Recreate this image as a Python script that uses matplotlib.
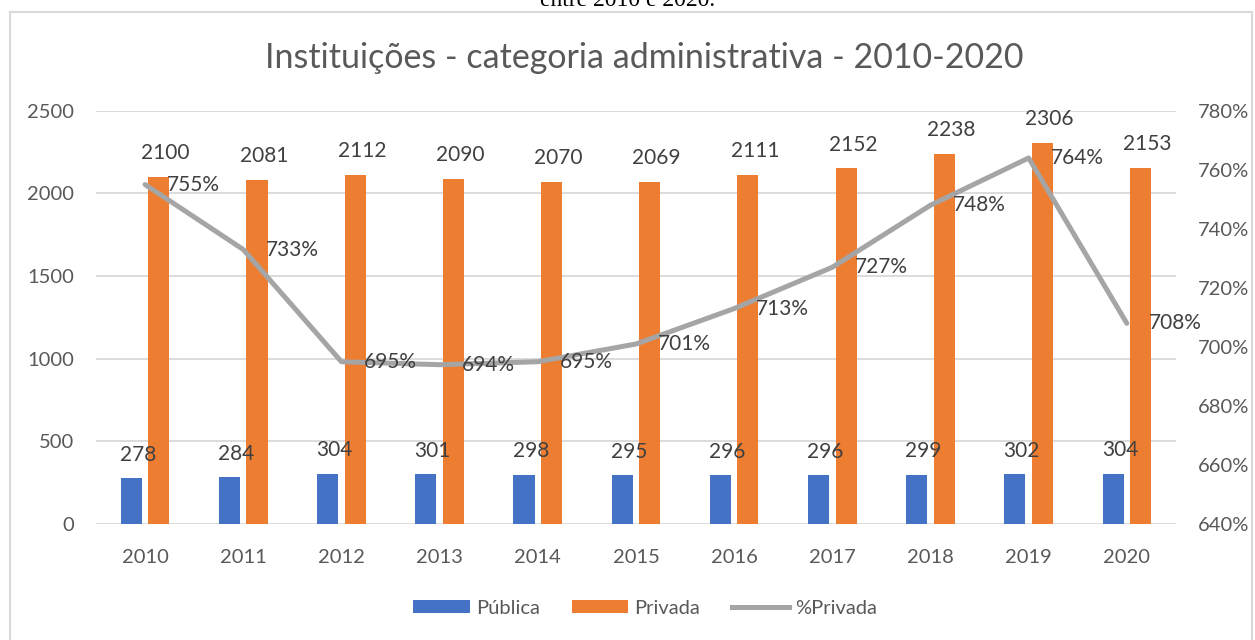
import matplotlib.pyplot as plt
import numpy as np
from matplotlib.lines import Line2D
from matplotlib.patches import Patch

YEARS = ["2010", "2011", "2012", "2013", "2014", "2015", "2016", "2017", "2018", "2019", "2020"]
PUBLICA = [278, 284, 304, 301, 298, 295, 296, 296, 299, 302, 304]
PRIVADA = [2100, 2081, 2112, 2090, 2070, 2069, 2111, 2152, 2238, 2306, 2153]
PCT_PRIVADA = [7.55, 7.33, 6.95, 6.94, 6.95, 7.01, 7.13, 7.27, 7.48, 7.64, 7.08]
LEFT_TICKS = [0, 500, 1000, 1500, 2000, 2500]
RIGHT_TICKS = [6.4, 6.6, 6.8, 7.0, 7.2, 7.4, 7.6, 7.8]

BLUE = "#4472C4"
ORANGE = "#ED7D31"
GRAY = "#A5A5A5"
TEXT = "#595959"
LABEL = "#404040"
GRID = "#D9D9D9"
FONT = "Lato"

plt.rcParams["font.family"] = [FONT, "DejaVu Sans"]

fig = plt.figure(figsize=(12.55, 6.4), dpi=100)
ax = fig.add_axes([0.0765, 0.181, 0.8605, 0.646])
ax2 = ax.twinx()

x = np.arange(len(YEARS))
width = 0.215
offset = 0.14

bars_pub = ax.bar(x - offset, PUBLICA, width, color=BLUE, zorder=2)
bars_priv = ax.bar(x + offset, PRIVADA, width, color=ORANGE, zorder=2)

for bars, values in [(bars_pub, PUBLICA), (bars_priv, PRIVADA)]:
    for bar, value in zip(bars, values):
        ax.annotate(str(value), (bar.get_x() + bar.get_width() / 2 + 0.07, value),
                    xytext=(0, 17), textcoords="offset points",
                    ha="center", va="center", fontsize=15, color=LABEL, zorder=5)

ax2.plot(x, PCT_PRIVADA, color=GRAY, linewidth=3.6, solid_capstyle="round", zorder=3)
for xi, value in zip(x, PCT_PRIVADA):
    ax2.annotate(f"{value * 100:.0f}%", (xi, value), xytext=(16, 0),
                 textcoords="offset points", ha="left", va="center",
                 fontsize=15, color=LABEL, zorder=6)

ax.set_xlim(-0.5, len(YEARS) - 0.5)
ax.set_ylim(0, 2500)
ax2.set_ylim(6.4, 7.8)
ax.set_xticks(x)
ax.set_xticklabels(YEARS)
ax.set_yticks(LEFT_TICKS)
ax2.set_yticks(RIGHT_TICKS)
ax2.set_yticklabels([f"{t * 100:.0f}%" for t in RIGHT_TICKS])

ax.grid(axis="y", color=GRID, linewidth=1.3, zorder=0)
ax.set_axisbelow(True)
for a in (ax, ax2):
    for spine in a.spines.values():
        spine.set_visible(False)
    a.tick_params(length=0, labelsize=14.5, colors=TEXT)
ax.tick_params(axis="y", pad=16)
ax2.tick_params(axis="y", pad=16)
ax.tick_params(axis="x", pad=18)
ax2.patch.set_visible(False)

fig.text(0.513, 0.909, "Instituições - categoria administrativa - 2010-2020",
         ha="center", va="center", fontsize=24.5, color=TEXT)
fig.text(0.5, 0.99, "entre 2010 e 2020.", ha="center", va="baseline",
         fontsize=17, family="Liberation Serif", color="black")

# chart frame
frame_kw = dict(transform=fig.transFigure, color=GRID, linewidth=1.5)
fig.add_artist(Line2D([10 / 1255, 10 / 1255], [0, 1 - 12 / 640], **frame_kw))
fig.add_artist(Line2D([10 / 1255, 1252 / 1255], [1 - 12 / 640, 1 - 12 / 640], **frame_kw))
fig.add_artist(Line2D([1252 / 1255, 1252 / 1255], [0, 1 - 12 / 640], **frame_kw))

handles = [
    Patch(facecolor=BLUE, label="Pública"),
    Patch(facecolor=ORANGE, label="Privada"),
    Line2D([0], [0], color=GRAY, linewidth=3.6, label="%Privada"),
]
fig.legend(handles=handles, loc="center", bbox_to_anchor=(0.514, 0.05), ncol=3,
           frameon=False, fontsize=14.5, labelcolor=TEXT, handlelength=2.8,
           handleheight=0.6, handletextpad=0.3, columnspacing=1.6)

fig.savefig("out.png", dpi=100)
